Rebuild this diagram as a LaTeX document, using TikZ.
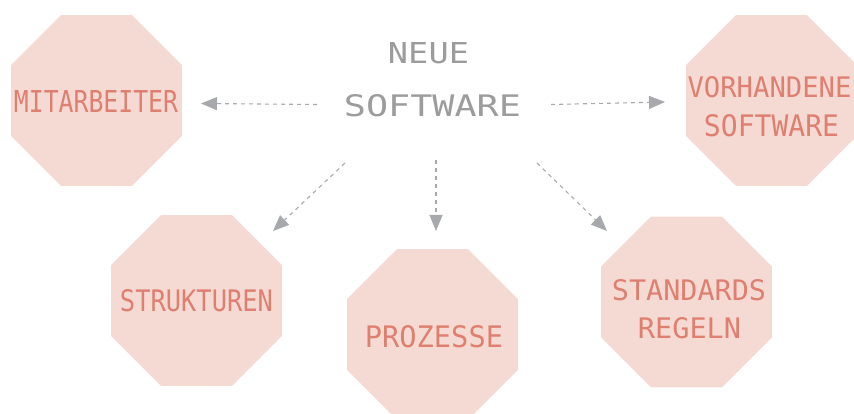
\documentclass[tikz,border=0pt]{standalone}
\usepackage{fontspec}
\usepackage{graphicx}
\usetikzlibrary{arrows.meta,shapes.geometric}
\newfontfamily\lcdfont{DejaVu Sans Mono}
\definecolor{octfill}{HTML}{F5DAD4}
\definecolor{octtext}{HTML}{DE7F70}
\definecolor{arrowgray}{HTML}{A8A9AC}
\definecolor{titlegray}{HTML}{9C9C9C}
\newcommand{\lcdtext}[3]{\resizebox{#1pt}{#2pt}{\lcdfont #3}}
\tikzset{
  octa/.style={regular polygon, regular polygon sides=8, fill=octfill, draw=none,
    inner sep=0pt, minimum size=185pt},
  octlabel/.style={text=octtext, inner sep=0pt},
  titlelabel/.style={text=titlegray, inner sep=0pt},
  conn/.style={draw=arrowgray, line width=1.1pt, dash pattern=on 4pt off 4pt,
    -{Triangle[length=16pt,width=13pt,fill=arrowgray]}}
}
\begin{document}
\begin{tikzpicture}[x=1pt,y=-1pt]
\useasboundingbox (0,0) rectangle (854,414);
% octagons
\node[octa] (o1) at (96.5,100.5) {};
\node[octa] (o2) at (771.5,100.5) {};
\node[octa] (o3) at (196.5,300.5) {};
\node[octa] (o4) at (432.5,334.5) {};
\node[octa] (o5) at (686.5,302) {};
% labels
\node[octlabel] (t1) at (96,101.5) {\lcdtext{164}{22}{MITARBEITER}};
\node[octlabel] (t2a) at (769.5,87) {\lcdtext{164}{21}{VORHANDENE}};
\node[octlabel] (t2b) at (771.5,126) {\lcdtext{135}{22}{SOFTWARE}};
\node[octlabel] (t3) at (196.5,300.5) {\lcdtext{153}{22}{STRUKTUREN}};
\node[octlabel] (t4) at (434,336.5) {\lcdtext{138}{22}{PROZESSE}};
\node[octlabel] (t5a) at (689,290) {\lcdtext{154}{21}{STANDARDS}};
\node[octlabel] (t5b) at (689.5,328) {\lcdtext{103}{21}{REGELN}};
\node[titlelabel] (c1) at (428.5,53) {\lcdtext{81}{21}{NEUE}};
\node[titlelabel] (c2) at (432.5,106) {\lcdtext{177}{22}{SOFTWARE}};
% connector end points
\coordinate (a1s) at (317,104.5);
\coordinate (a1e) at (201,103.5);
\coordinate (a2s) at (551,104.5);
\coordinate (a2e) at (665,102);
\coordinate (a3s) at (345,163);
\coordinate (a3e) at (273,231);
\coordinate (a4s) at (436,160);
\coordinate (a4e) at (436,231);
\coordinate (a5s) at (537,163);
\coordinate (a5e) at (607,231);
\draw[conn] (a1s) -- (a1e);
\draw[conn] (a2s) -- (a2e);
\draw[conn] (a3s) -- (a3e);
\draw[conn] (a4s) -- (a4e);
\draw[conn] (a5s) -- (a5e);
\end{tikzpicture}
\end{document}
